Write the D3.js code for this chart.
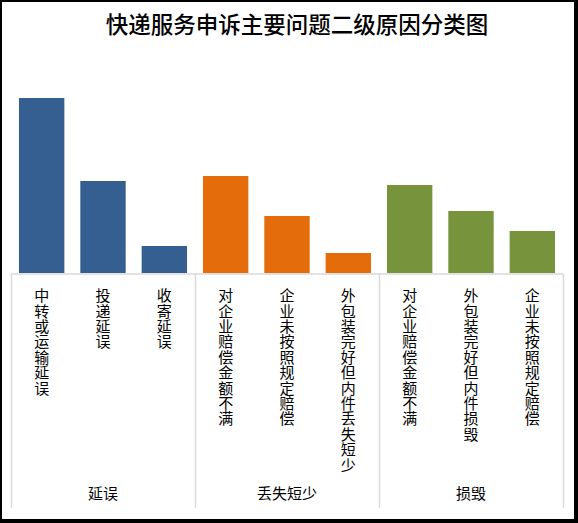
<!DOCTYPE html>
<html>
<head>
<meta charset="utf-8">
<script src="https://cdn.jsdelivr.net/npm/d3@7"></script>
<style>
  html, body { margin: 0; padding: 0; background: #fff; }
  #chart { width: 578px; height: 523px; }
</style>
</head>
<body>
<div id="chart"></div>
<script>
const width = 578;
const height = 523;

// 数据
const title = '快递服务申诉主要问题二级原因分类图';
const groups = ['延误', '丢失短少', '损毁'];
const groupColors = ['#365f91', '#e46c0a', '#77933c'];
const categories = [
    '中转或运输延误', '投递延误', '收寄延误',
    '对企业赔偿金额不满', '企业未按照规定赔偿', '外包装完好但内件丢失短少',
    '对企业赔偿金额不满', '外包装完好但内件损毁', '企业未按照规定赔偿'
];
const categoryGroup = [0, 0, 0, 1, 1, 1, 2, 2, 2];
const values = [175, 92, 27, 97, 57, 20, 88, 62, 42];

const svg = d3.select('#chart').append('svg')
    .attr('width', width)
    .attr('height', height);

// 边框 (带阴影的黑框)
svg.append('rect')
    .attr('x', 0).attr('y', 0)
    .attr('width', width).attr('height', height)
    .attr('fill', '#000');
svg.append('rect')
    .attr('x', 2).attr('y', 2)
    .attr('width', width - 6).attr('height', height - 6)
    .attr('fill', '#fff');

const plotLeft = 11, plotRight = 563, baseY = 273;

const x = d3.scaleBand()
    .domain(d3.range(categories.length))
    .range([plotLeft, plotRight])
    .paddingInner(0.26)
    .paddingOuter(0.13);

const y = d3.scaleLinear()
    .domain([0, 200])
    .range([baseY, baseY - 200]);

// 标题
svg.append('text')
    .attr('x', 297)
    .attr('y', 33)
    .attr('text-anchor', 'middle')
    .style('font-family', '"Noto Sans CJK SC"')
    .style('font-size', '22.5px')
    .style('font-weight', '500')
    .attr('fill', '#000')
    .text(title);

// 柱子
svg.selectAll('rect.bar')
    .data(values)
    .enter().append('rect')
    .attr('class', 'bar')
    .attr('x', (d, i) => x(i))
    .attr('y', d => y(d))
    .attr('width', x.bandwidth())
    .attr('height', d => y(0) - y(d))
    .attr('fill', (d, i) => groupColors[categoryGroup[i]]);

// 坐标轴线和分组分隔线
const step = x.step();
const sepBottom = 508;
svg.append('line')
    .attr('x1', plotLeft).attr('x2', plotRight)
    .attr('y1', baseY + 1).attr('y2', baseY + 1)
    .attr('stroke', '#d9d9d9')
    .attr('stroke-width', 1.5);

for (let k = 0; k <= groups.length; k++) {
    const sx = Math.round(plotLeft + k * 3 * step) + 0.5;
    svg.append('line')
        .attr('x1', sx).attr('x2', sx)
        .attr('y1', baseY + 1).attr('y2', sepBottom)
        .attr('stroke', '#d9d9d9')
        .attr('stroke-width', 1.5);
}

// 竖排分类标签
svg.selectAll('text.cat')
    .data(categories)
    .enter().append('text')
    .attr('class', 'cat')
    .attr('x', (d, i) => x(i) + x.bandwidth() / 2)
    .attr('y', 288)
    .style('writing-mode', 'vertical-rl')
    .style('text-orientation', 'upright')
    .style('letter-spacing', '0.4px')
    .style('font-family', '"Noto Sans CJK SC"')
    .style('font-size', '15px')
    .attr('fill', '#000')
    .text(d => d);

// 分组标签
groups.forEach((g, k) => {
    const gx = plotLeft + (k * 3 + 1.5) * step;
    svg.append('text')
        .attr('x', gx)
        .attr('y', 499)
        .attr('text-anchor', 'middle')
        .style('font-family', '"Noto Sans CJK SC"')
        .style('font-size', '15px')
        .attr('fill', '#000')
        .text(g);
});
</script>
</body>
</html>
